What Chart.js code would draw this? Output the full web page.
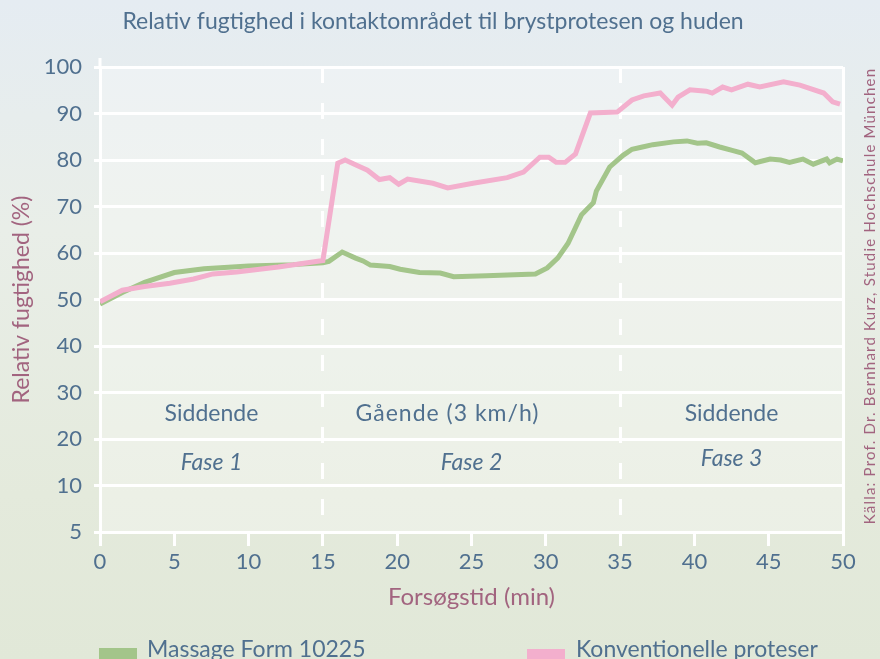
<!DOCTYPE html>
<html>
<head>
<meta charset="utf-8">
<script src="https://cdn.jsdelivr.net/npm/chart.js@4"></script>
<style>
  html, body { margin: 0; padding: 0; }
  body {
    width: 880px; height: 659px; overflow: hidden;
    background: linear-gradient(180deg, #e5ecf2 0%, #e9eee8 35%, #e4eadc 75%, #e1e8d8 100%);
  }
  #wrap { position: relative; width: 880px; height: 659px; }
</style>
</head>
<body>
<div id="wrap"><canvas id="c"></canvas></div>
<script>
const greenTime = [0, 1.5, 3, 5, 7, 10, 13, 15, 15.4, 16.3, 17.2, 17.7, 18.2, 19.5, 20.2, 21.5, 22.9, 23.8, 26, 29.3, 30.1, 30.8, 31.5, 32.4, 33.2, 33.4, 34.3, 35.2, 35.8, 36.5, 37.2, 38.6, 39.5, 40.2, 40.8, 41.7, 42.6, 43.2, 44.1, 45.1, 45.8, 46.4, 47.3, 48, 48.9, 49.1, 49.6, 50];
const greenHumidity = [49, 51.5, 53.7, 55.8, 56.6, 57.2, 57.5, 57.9, 58.2, 60.2, 58.9, 58.3, 57.4, 57.1, 56.5, 55.8, 55.7, 54.9, 55.1, 55.5, 56.8, 58.9, 62.1, 68.2, 70.8, 73.3, 78.5, 81, 82.3, 82.8, 83.3, 83.9, 84.1, 83.6, 83.7, 82.8, 82, 81.5, 79.4, 80.2, 80, 79.5, 80.2, 79.1, 80.2, 79.4, 80.2, 79.8];

const pinkTime = [0, 1.5, 3, 4.7, 6.3, 7.6, 9.2, 12, 15, 16, 16.5, 17.3, 18, 18.8, 19.5, 20.1, 20.7, 22.4, 23.4, 25.1, 27.4, 28.5, 29.6, 30.2, 30.7, 31.3, 32, 33, 34.8, 35.8, 36.6, 37.7, 38.5, 38.9, 39.7, 40.8, 41.2, 41.9, 42.5, 43.6, 44.4, 46, 47.1, 48.7, 49.3, 49.8];
const pinkHumidity = [49.5, 52, 52.8, 53.5, 54.4, 55.5, 55.9, 57, 58.4, 79.3, 80, 78.8, 77.8, 75.8, 76.2, 74.8, 75.9, 75, 74, 75, 76.2, 77.4, 80.6, 80.6, 79.5, 79.5, 81.3, 90.1, 90.3, 92.9, 93.8, 94.4, 91.8, 93.5, 95.1, 94.8, 94.4, 95.7, 95.1, 96.3, 95.7, 96.8, 96.1, 94.4, 92.5, 92];

const seriesNames = ['Massage Form 10225', 'Konventionelle proteser'];
const phaseBounds = [0, 15, 35, 50];
const phaseActivity = ['Siddende', 'Gående (3 km/h)', 'Siddende'];
const phaseNames = ['Fase 1', 'Fase 2', 'Fase 3'];
const yTicks = [0, 10, 20, 30, 40, 50, 60, 70, 80, 90, 100];
const yTickLabels = ['5', '10', '20', '30', '40', '50', '60', '70', '80', '90', '100'];

const GREEN = '#a3c58a';
const PINK = '#f3afcd';
const BLUE = '#50708f';
const MAUVE = '#a2647f';
const FONT = 'Lato, "Open Sans", sans-serif';

const pts = (t, v) => t.map((x, i) => ({ x: x, y: v[i] }));

const decor = {
  id: 'decor',
  beforeDraw(chart) {
    const { ctx, chartArea: a } = chart;
    ctx.save();
    ctx.fillStyle = 'rgba(255,255,255,0.3)';
    ctx.fillRect(a.left, a.top, a.right - a.left, a.bottom - a.top);
    // y axis line runs a little above the top gridline
    ctx.fillStyle = '#ffffff';
    ctx.fillRect(a.left - 1.5, a.top - 9, 3, 10);
    ctx.restore();
  },
  afterDatasetsDraw(chart) {
    const { ctx } = chart;
    const x = chart.scales.x, y = chart.scales.y;
    ctx.save();
    ctx.fillStyle = BLUE;
    ctx.textAlign = 'center';
    ctx.textBaseline = 'middle';
    // title
    ctx.font = '23px ' + FONT;
    ctx.fillText('Relativ fugtighed i kontaktområdet til brystprotesen og huden', 433, 22);
    // phase labels
    for (let i = 0; i < phaseActivity.length; i++) {
      const cx = x.getPixelForValue((phaseBounds[i] + phaseBounds[i + 1]) / 2);
      const off = i === 1 ? -24 : 0;
      ctx.font = '23px ' + FONT;
      ctx.letterSpacing = i === 1 ? '1px' : '0px';
      ctx.fillText(phaseActivity[i], cx + off, y.getPixelForValue(25.4));
      ctx.letterSpacing = '0px';
      ctx.font = 'italic 23px ' + FONT;
      ctx.fillText(phaseNames[i], cx, y.getPixelForValue(i === 2 ? 15.8 : 15));
    }
    // source
    ctx.fillStyle = MAUVE;
    ctx.font = '15px ' + FONT;
    ctx.letterSpacing = '1.2px';
    ctx.translate(870, 296);
    ctx.rotate(-Math.PI / 2);
    ctx.fillText('Källa: Prof. Dr. Bernhard Kurz, Studie Hochschule München', 0, 0);
    ctx.restore();

    // legend
    ctx.save();
    ctx.font = '23px ' + FONT;
    ctx.textBaseline = 'middle';
    ctx.fillStyle = GREEN;
    ctx.fillRect(99, 648, 38, 12);
    ctx.fillStyle = PINK;
    ctx.fillRect(527, 649, 38, 12);
    ctx.fillStyle = BLUE;
    ctx.fillText(seriesNames[0], 147, 650);
    ctx.fillText(seriesNames[1], 576, 650);
    ctx.restore();
  }
};

const special = v => phaseBounds.includes(v);

new Chart(document.getElementById('c'), {
  type: 'line',
  data: {
    datasets: [
      {
        label: seriesNames[0],
        data: pts(greenTime, greenHumidity),
        borderColor: GREEN,
        backgroundColor: GREEN,
        borderWidth: 5,
        pointRadius: 0,
        tension: 0,
        order: 1
      },
      {
        label: seriesNames[1],
        data: pts(pinkTime, pinkHumidity),
        borderColor: PINK,
        backgroundColor: PINK,
        borderWidth: 5,
        pointRadius: 0,
        tension: 0,
        order: 0
      }
    ]
  },
  options: {
    responsive: true,
    maintainAspectRatio: false,
    animation: false,
    layout: { padding: { top: 67, right: 37, left: 0, bottom: 0 } },
    plugins: {
      legend: { display: false },
      title: { display: false },
      tooltip: { enabled: false }
    },
    scales: {
      x: {
        type: 'linear',
        min: 0, max: 50,
        afterFit: s => { s.height = 127; },
        ticks: { stepSize: 5, color: BLUE, font: { family: FONT, size: 22 }, padding: 3 },
        grid: {
          color: c => (c.tick && special(c.tick.value)) ? '#ffffff' : 'rgba(0,0,0,0)',
          lineWidth: 3,
          tickColor: '#ffffff',
          tickWidth: 3,
          tickLength: 14
        },
        border: {
          display: false,
          dash: c => (c.tick && (c.tick.value === 15 || c.tick.value === 35)) ? [16, 20] : []
        },
        title: {
          display: true,
          text: 'Forsøgstid (min)',
          color: MAUVE,
          font: { family: FONT, size: 24 },
          padding: { top: 0, bottom: 47 }
        }
      },
      y: {
        min: 0, max: 100,
        afterFit: s => { s.width = 100; },
        afterBuildTicks: s => { s.ticks = yTicks.map(v => ({ value: v })); },
        ticks: {
          color: BLUE,
          font: { family: FONT, size: 22 },
          padding: 12,
          callback: v => yTickLabels[yTicks.indexOf(v)]
        },
        grid: { color: '#ffffff', lineWidth: 3, tickLength: 6, tickColor: '#ffffff' },
        border: { display: false },
        title: {
          display: true,
          text: 'Relativ fugtighed (%)',
          color: MAUVE,
          font: { family: FONT, size: 23 },
          padding: { top: 8, bottom: 0 }
        }
      }
    }
  },
  plugins: [decor]
});
</script>
</body>
</html>
